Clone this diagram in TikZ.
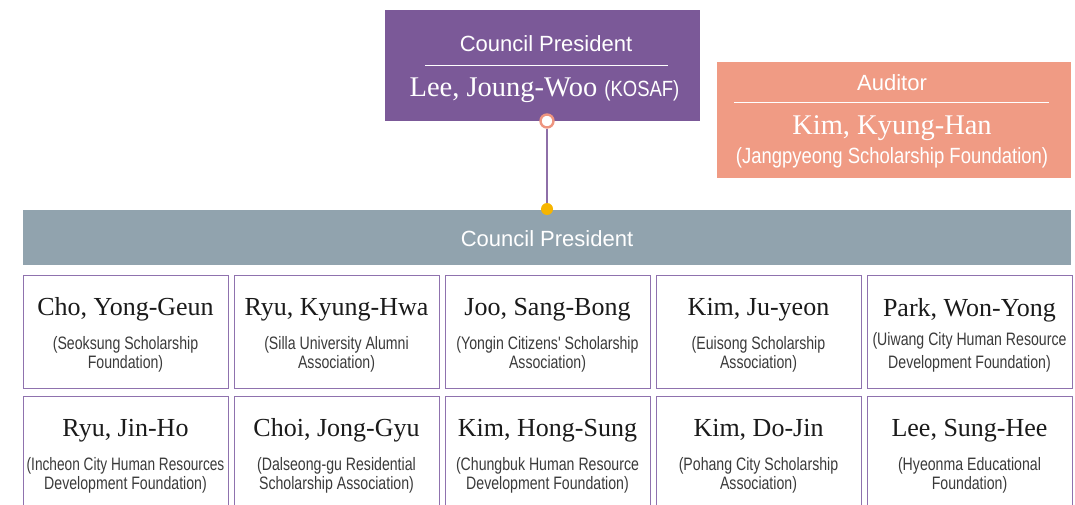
\documentclass[tikz,border=0pt]{standalone}
\usepackage{fontspec}
\setmainfont{Liberation Serif}
\newfontfamily\headfont{Liberation Sans}
\newfontfamily\orgfont[FakeStretch=0.785]{Liberation Sans}
\newfontfamily\orgtight[FakeStretch=0.76]{Liberation Sans}
\newfontfamily\audfont[FakeStretch=0.84]{Liberation Sans}
\usepackage{xcolor}
\usepackage{tikz}
\usetikzlibrary{positioning}
\definecolor{prespurple}{HTML}{7B5998}
\definecolor{audsalmon}{HTML}{F09B84}
\definecolor{boardgray}{HTML}{91A3AE}
\definecolor{boxpurple}{HTML}{8F72AE}
\definecolor{dotsalmon}{HTML}{EE9580}
\definecolor{dotyellow}{HTML}{F7B500}
\definecolor{linkpurple}{HTML}{8E6FA8}
\definecolor{namecolor}{HTML}{1A1A1A}
\definecolor{orgcolor}{HTML}{3A3A3A}
\newcommand{\memname}[1]{\rule{0pt}{25pt}{\rmfamily\fontsize{26}{26}\selectfont\color{namecolor}#1}}
\tikzset{
  presbox/.style={fill=prespurple,minimum width=315pt,minimum height=111pt,inner sep=0pt},
  audbox/.style={fill=audsalmon,minimum width=354pt,minimum height=116pt,inner sep=0pt},
  boardbar/.style={fill=boardgray,minimum width=1048pt,minimum height=55pt,inner sep=0pt},
  headtext/.style={font=\headfont\fontsize{22}{24}\selectfont,text=white,anchor=base,inner sep=0pt},
  bigname/.style={font=\fontsize{28.5}{30}\selectfont,text=white,anchor=base,inner sep=0pt},
  orgline/.style={font=\audfont\fontsize{22}{24}\selectfont,text=white,anchor=base,inner sep=0pt},
  membox/.style={draw=boxpurple,line width=0.9pt,minimum width=205pt,minimum height=113pt,
    inner xsep=0pt,align=center,text=orgcolor,font=\orgfont\fontsize{18}{19}\selectfont},
  topdot/.style={circle,draw=dotsalmon,fill=white,line width=2.4pt,minimum size=13pt,inner sep=0pt},
  bardot/.style={circle,fill=dotyellow,minimum size=12pt,inner sep=0pt},
  linkline/.style={draw=linkpurple,line width=1.3pt},
  ruleline/.style={white,line width=0.8pt},
}

\begin{document}
\begin{tikzpicture}[x=1pt,y=-1pt]
  \useasboundingbox (0,0) rectangle (1075,505);
  % council president
  \node[presbox] (pres) at (542.5,65.5) {};
  \node[headtext] (prestitle) at (546,52) {Council President};
  \draw[ruleline] (425,65) -- (668,65);
  \node[bigname] (presname) at (544.5,97) {Lee, Joung-Woo {\audfont\fontsize{22}{24}\selectfont(KOSAF)}};
  % auditor
  \node[audbox] (aud) at (894,120) {};
  \node[headtext] (audtitle) at (892,91) {Auditor};
  \draw[ruleline] (734,102) -- (1049,102);
  \node[bigname] (audname) at (892,135) {Kim, Kyung-Han};
  \node[orgline] (audorg) at (892,164) {(Jangpyeong Scholarship Foundation)};
  % board
  \node[boardbar] (board) at (547,237.5) {};
  \node[headtext] (boardtitle) at (547,246) {Council President};
  \node[topdot] (presdot) at (547,121) {};
  \node[bardot] (boarddot) at (547,209) {};
  \draw[linkline] (presdot) -- (boarddot);
  % members, first row
  \node[membox] (m1) at (125.5,331.5) {\memname{Cho, Yong-Geun}\\[15pt](Seoksung Scholarship\\Foundation)};
  \node[membox] (m2) at (336.5,331.5) {\memname{Ryu, Kyung-Hwa}\\[15pt](Silla University Alumni\\Association)};
  \node[membox] (m3) at (547.5,331.5) {\memname{Joo, Sang-Bong}\\[15pt](Yongin Citizens' Scholarship\\Association)};
  \node[membox] (m4) at (758.5,331.5) {\memname{Kim, Ju-yeon}\\[15pt](Euisong Scholarship\\Association)};
  \node[membox] (m5) at (969.5,331.5) {\memname{Park, Won-Yong}\\[10pt](Uiwang City Human Resource\\[4pt]Development Foundation)};
  % members, second row
  \node[membox] (m6) at (125.5,452.5) {\memname{Ryu, Jin-Ho}\\[15pt]{\orgtight(Incheon City Human Resources}\\Development Foundation)};
  \node[membox] (m7) at (336.5,452.5) {\memname{Choi, Jong-Gyu}\\[15pt](Dalseong-gu Residential\\Scholarship Association)};
  \node[membox] (m8) at (547.5,452.5) {\memname{Kim, Hong-Sung}\\[15pt](Chungbuk Human Resource\\Development Foundation)};
  \node[membox] (m9) at (758.5,452.5) {\memname{Kim, Do-Jin}\\[15pt](Pohang City Scholarship\\Association)};
  \node[membox] (m10) at (969.5,452.5) {\memname{Lee, Sung-Hee}\\[15pt](Hyeonma Educational\\Foundation)};
\end{tikzpicture}
\end{document}
